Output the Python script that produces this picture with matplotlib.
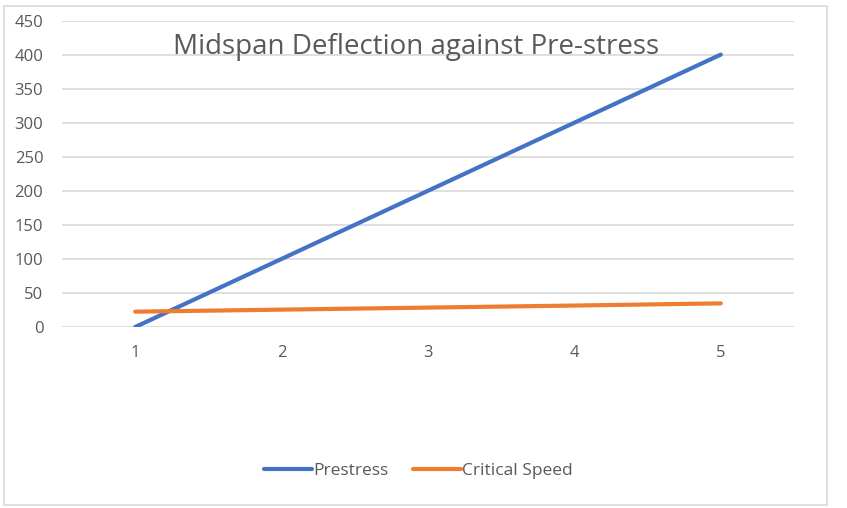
import matplotlib
matplotlib.use('Agg')
import matplotlib.pyplot as plt
from matplotlib.patches import Rectangle

plt.rcParams['font.family'] = ['Open Sans', 'DejaVu Sans']

x = [1, 2, 3, 4, 5]
prestress = [0, 100, 200, 300, 400]
critical_speed = [22.5, 25.5, 28.5, 31.5, 34.7]

fig = plt.figure(figsize=(8.47, 5.08), dpi=100)
ax = fig.add_axes([0.0732, 0.3563, 0.8642, 0.6033])

# chart border
fig.patches.append(Rectangle((4 / 847, 1 - 505 / 508), 823 / 847, 499 / 508,
                             transform=fig.transFigure, fill=False,
                             edgecolor='#D9D9D9', linewidth=1.2))

ax.plot(x, prestress, color='#4472C4', linewidth=3.0, label='Prestress',
        solid_capstyle='round')
ax.plot(x, critical_speed, color='#ED7D31', linewidth=3.0, label='Critical Speed',
        solid_capstyle='round')

ax.set_xlim(0.5, 5.5)
ax.set_ylim(0, 450)
ax.set_yticks(range(0, 451, 50))
ax.set_xticks(x)
ax.grid(axis='y', color='#D9D9D9', linewidth=1.2)
ax.set_axisbelow(True)
for s in ax.spines.values():
    s.set_visible(False)
ax.tick_params(length=0, colors='#595959', labelsize=12)
ax.tick_params(axis='y', pad=13.5)
ax.tick_params(axis='x', pad=13)

ax.text(0.4836, 0.915, 'Midspan Deflection against Pre-stress', transform=ax.transAxes,
        ha='center', va='center', fontsize=20, color='#595959')

fig.legend(loc='center', bbox_to_anchor=(0.494, 1 - 471 / 508), ncol=2, frameon=False,
           fontsize=12.5, labelcolor='#595959', handlelength=2.8, handletextpad=0.05,
           columnspacing=1.4)

fig.savefig('out.png', dpi=100)
